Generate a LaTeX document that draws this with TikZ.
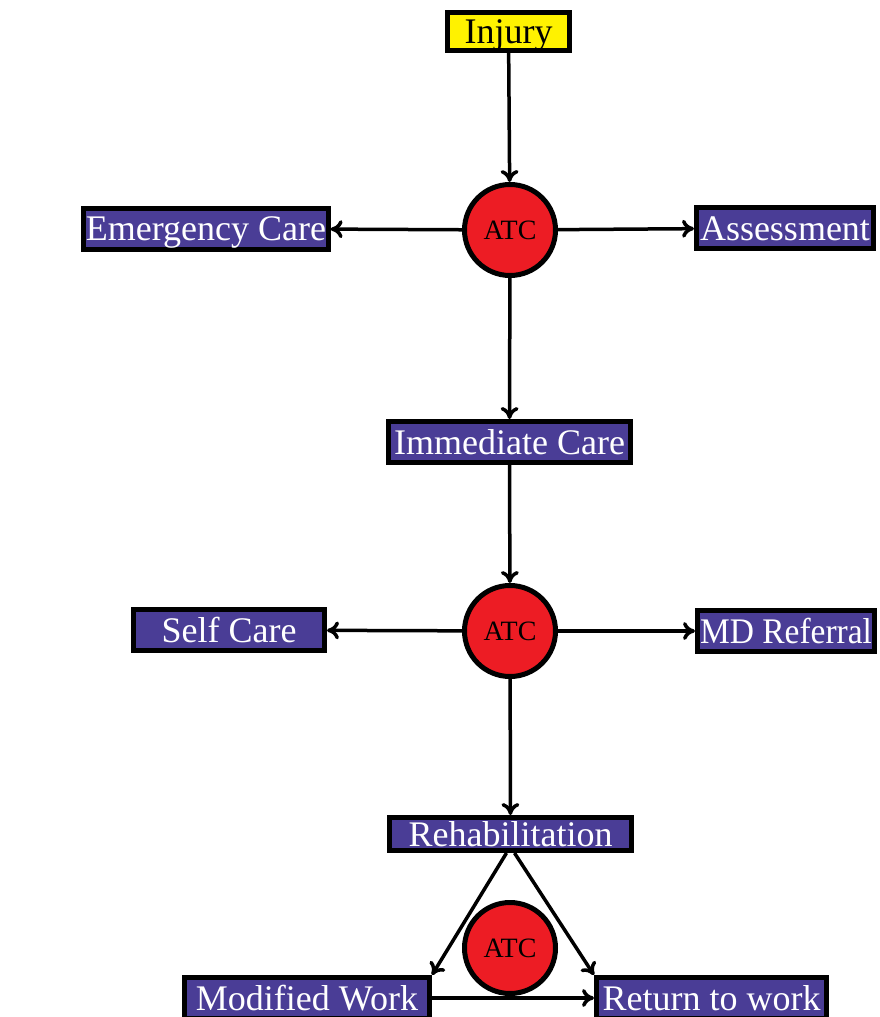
\documentclass[tikz,border=0pt]{standalone}
\usepackage{fontspec}
\setmainfont{Liberation Serif}
\newfontfamily\narrowserif[FakeStretch=0.93]{Liberation Serif}
\usetikzlibrary{arrows.meta}
\definecolor{boxblue}{RGB}{74,61,150}
\definecolor{atcred}{RGB}{237,28,36}
\definecolor{injyellow}{RGB}{255,242,0}
\tikzset{
  box/.style={draw=black, line width=5pt, fill=boxblue, text=white, inner sep=2pt,
    minimum height=41pt, text height=24pt, text depth=0pt,
    font=\fontsize{36}{40}\selectfont},
  startbox/.style={box, fill=injyellow, text=black, minimum height=38pt},
  atc/.style={circle, draw=black, line width=5pt, fill=atcred, minimum size=91pt,
    inner sep=0pt, font=\fontsize{28}{30}\selectfont},
  flow/.style={line width=3.5pt, -{To[length=12pt,width=18pt]}}
}
\begin{document}
\begin{tikzpicture}[x=1pt,y=-1pt]
  \useasboundingbox (0,0) rectangle (880,1017);
  % top part
  \node [startbox, minimum width=122pt] (injury) at (508.5,31.5) {Injury};
  \node [atc] (atc1) at (510,230) {ATC};
  \node [box, minimum width=241pt] (emerg) at (206,228.5) {Emergency Care};
  \node [box, minimum width=177pt] (assess) at (785,228) {Assessment};
  \node [box, minimum width=242pt] (immed) at (509.5,442) {Immediate Care};
  % middle part
  \node [atc] (atc2) at (510,631) {ATC};
  \node [box, minimum width=191pt] (self) at (229,630) {Self Care};
  \node [box, minimum width=177pt] (mdref) at (786,631) {\narrowserif MD Referral};
  \node [box, minimum width=242pt, minimum height=33pt] (rehab) at (510.5,834) {Rehabilitation};
  % bottom part
  \node [box, minimum width=245pt] (modwork) at (307,998) {Modified Work};
  \node [box, minimum width=230pt] (rtw) at (711.5,998) {Return to work};
  \draw [flow] (injury) -- (atc1);
  \draw [flow] (atc1) -- (emerg);
  \draw [flow] (atc1) -- (assess);
  \draw [flow] (atc1) -- (immed);
  \draw [flow] (immed) -- (atc2);
  \draw [flow] (atc2) -- (self);
  \draw [flow] (atc2) -- (mdref);
  \draw [flow] (atc2) -- (rehab);
  \draw [flow] ([xshift=-4pt]rehab.south) -- (modwork.north east);
  \draw [flow] ([xshift=4pt]rehab.south) -- (rtw.north west);
  \draw [flow] (modwork) -- (rtw);
  \node [atc] (atc3) at (510,948) {ATC};
\end{tikzpicture}
\end{document}
